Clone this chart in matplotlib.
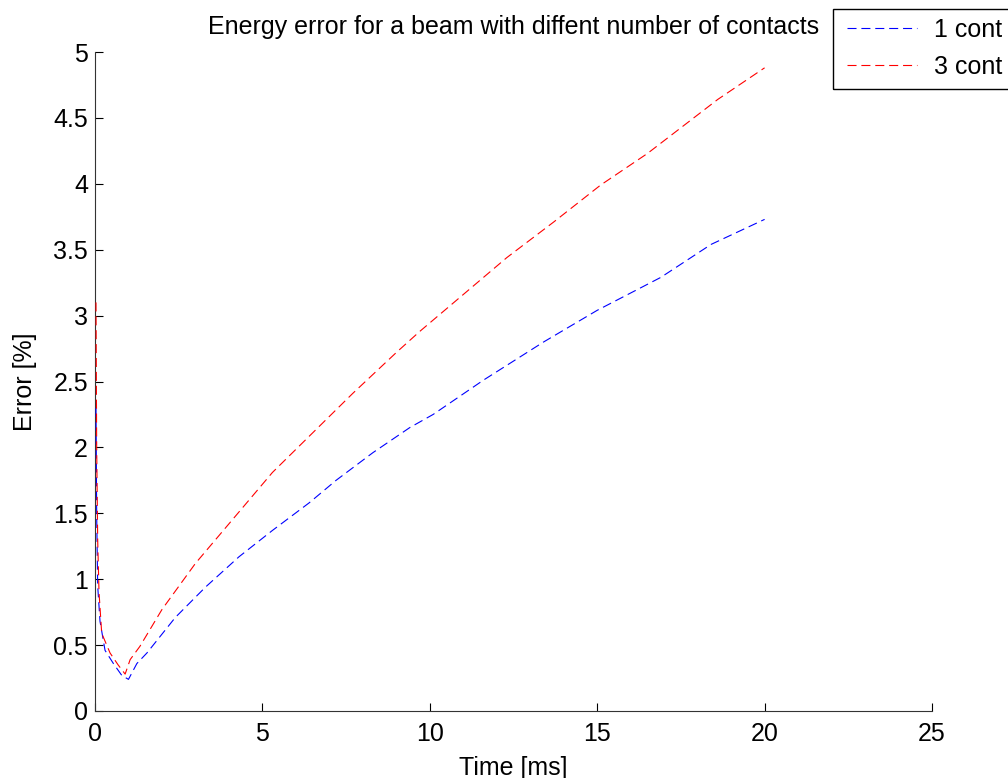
import matplotlib.pyplot as plt
from matplotlib.patches import Rectangle

plt.rcParams['font.family'] = ['Liberation Sans', 'DejaVu Sans']
plt.rcParams['lines.scale_dashes'] = False

# time [ms] and energy error [%] for each contact setup
t_one = [0.03, 0.05, 0.08, 0.15, 0.3, 0.55, 0.8, 1.0, 1.25, 1.55, 2.4, 3.3, 4.3, 5.3, 6.4,
         7.2, 8.3, 9.4, 10.1, 11.6, 13.4, 15.0, 16.9, 18.4, 20.0]
err_one = [2.3, 1.5, 0.95, 0.68, 0.46, 0.36, 0.27, 0.24, 0.36, 0.44, 0.71, 0.94, 1.17, 1.37, 1.58,
           1.75, 1.96, 2.15, 2.25, 2.51, 2.80, 3.04, 3.29, 3.54, 3.73]

t_three = [0.03, 0.05, 0.08, 0.12, 0.2, 0.45, 0.69, 0.9, 1.05, 1.34, 2.0, 3.0, 4.1, 5.3, 6.5,
           7.7, 9.0, 9.7, 11.0, 12.3, 13.7, 15.1, 16.5, 18.6, 20.0]
err_three = [3.1, 2.0, 1.3, 0.9, 0.59, 0.44, 0.35, 0.28, 0.39, 0.49, 0.77, 1.12, 1.45, 1.81, 2.11,
             2.41, 2.72, 2.88, 3.16, 3.44, 3.71, 3.99, 4.23, 4.64, 4.88]

legend_labels = ['1 cont', '3 cont']

xticks = [0, 5, 10, 15, 20, 25]
yticks = [0, 0.5, 1, 1.5, 2, 2.5, 3, 3.5, 4, 4.5, 5]
ylabels = ['0', '0.5', '1', '1.5', '2', '2.5', '3', '3.5', '4', '4.5', '5']

W, H = 1008, 778
fig = plt.figure(figsize=(W / 100, H / 100), dpi=100)
ax = fig.add_axes([95 / W, 67 / H, 837 / W, 659 / H])

ax.plot(t_one, err_one, color='#0000ff', lw=0.8, dashes=(6.5, 3.5),
        label=legend_labels[0], zorder=3)
ax.plot(t_three, err_three, color='#ff0000', lw=0.8, dashes=(6.5, 3.5),
        label=legend_labels[1], zorder=3)

ax.set_xlim(0, 25)
ax.set_ylim(0, 5)
ax.set_xticks(xticks)
ax.set_yticks(yticks)
ax.set_yticklabels(ylabels)
ax.tick_params(direction='in', length=6, width=0.8, labelsize=18)
ax.tick_params(axis='x', pad=8)
ax.tick_params(axis='y', pad=5)
for side in ['top', 'right']:
    ax.spines[side].set_visible(False)
for side in ['left', 'bottom']:
    ax.spines[side].set_linewidth(0.8)
    ax.spines[side].set_color('#333333')

ax.set_xlabel('Time [ms]', fontsize=18, labelpad=7)
ax.set_ylabel('Error [%]', fontsize=18, labelpad=12)
ax.set_title('Energy error for a beam with diffent number of contacts', fontsize=18, pad=13)

# legend box runs past the right edge of the figure
leg = ax.legend(loc='upper left', bbox_to_anchor=(847 / W, 1 - 18 / H),
                bbox_transform=fig.transFigure, fontsize=18, frameon=False,
                handlelength=2.8, handletextpad=0.7, labelspacing=0.52,
                borderpad=0, borderaxespad=0)
fig.patches.append(Rectangle((832.5 / W, 1 - 89 / H), 190 / W, 80 / H,
                             transform=fig.transFigure, fill=False,
                             edgecolor='black', linewidth=1.0))

fig.savefig('out.png', dpi=100)
